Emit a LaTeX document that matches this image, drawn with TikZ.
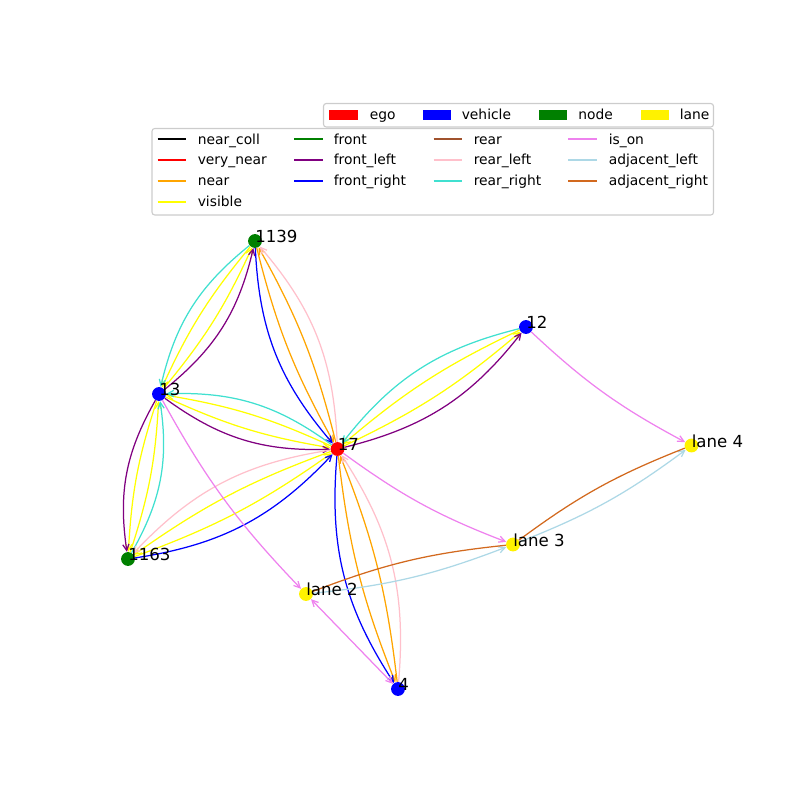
\documentclass[tikz,border=0pt]{standalone}
\usepackage{fontspec}
\setmainfont{DejaVu Sans}
\usetikzlibrary{arrows.meta}
\definecolor{near_coll}{HTML}{000000}
\definecolor{very_near}{HTML}{FF0000}
\definecolor{near}{HTML}{FFA500}
\definecolor{visible}{HTML}{FFFF00}
\definecolor{front}{HTML}{008000}
\definecolor{front_left}{HTML}{800080}
\definecolor{front_right}{HTML}{0000FF}
\definecolor{rear}{HTML}{A0522D}
\definecolor{rear_left}{HTML}{FFC0CB}
\definecolor{rear_right}{HTML}{40E0D0}
\definecolor{is_on}{HTML}{EE82EE}
\definecolor{adjacent_left}{HTML}{ADD8E6}
\definecolor{adjacent_right}{HTML}{D2691E}
\definecolor{node_green}{HTML}{008000}
\definecolor{frame_grey}{HTML}{CCCCCC}

\begin{document}
\begin{tikzpicture}[x=0.254mm, y=0.254mm,
        >={Straight Barb[length=4.5pt,width=4.5pt]},
        rel/.style={draw=#1, line width=0.9pt, ->},
        inb/.style={bend right=7.5},
        outb/.style={bend right=19},
        obj/.style={circle, fill=#1, inner sep=0pt, minimum size=10pt},
        tag/.style={anchor=base west, inner sep=0pt, font=\fontsize{12}{14}\selectfont},
        key/.style={anchor=base west, inner sep=0pt, font=\fontsize{10}{12}\selectfont},
        keyline/.style={draw=#1, line width=1.5pt},
        legbox/.style={draw=frame_grey, line width=0.8pt, fill=white, fill opacity=0.8, rounded corners=2pt}]
        \useasboundingbox (0,0) rectangle (800,-800);

        % Knoten
        \node[obj=node_green] (n1139) at (255,-241) {};
        \node[obj=blue] (n12) at (526,-327) {};
        \node[obj=blue] (n13) at (159,-394) {};
        \node[obj=red] (n17) at (337.5,-449) {};
        \node[obj=yellow] (lane4) at (691.5,-445.5) {};
        \node[obj=yellow] (lane3) at (513,-544.5) {};
        \node[obj=node_green] (n1163) at (128,-559) {};
        \node[obj=yellow] (lane2) at (306,-594) {};
        \node[obj=blue] (n4) at (398,-689) {};

        % 13 <-> 1139
        \draw[rel=visible, inb] (n13) to (n1139);
        \draw[rel=front_left, outb] (n13) to (n1139);
        \draw[rel=visible, inb] (n1139) to (n13);
        \draw[rel=rear_right, outb] (n1139) to (n13);
        % 1139 <-> 17
        \draw[rel=near, inb] (n1139) to (n17);
        \draw[rel=front_right, outb] (n1139) to (n17);
        \draw[rel=near, inb] (n17) to (n1139);
        \draw[rel=rear_left, outb] (n17) to (n1139);
        % 13 <-> 17
        \draw[rel=visible, inb] (n13) to (n17);
        \draw[rel=front_left, outb] (n13) to (n17);
        \draw[rel=visible, inb] (n17) to (n13);
        \draw[rel=rear_right, outb] (n17) to (n13);
        % 13 <-> 1163
        \draw[rel=visible, inb] (n13) to (n1163);
        \draw[rel=front_left, outb] (n13) to (n1163);
        \draw[rel=visible, inb] (n1163) to (n13);
        \draw[rel=rear_right, outb] (n1163) to (n13);
        % 1163 <-> 17
        \draw[rel=visible, inb] (n1163) to (n17);
        \draw[rel=front_right, outb] (n1163) to (n17);
        \draw[rel=visible, inb] (n17) to (n1163);
        \draw[rel=rear_left, outb] (n17) to (n1163);
        % 17 <-> 12
        \draw[rel=visible, inb] (n17) to (n12);
        \draw[rel=front_left, outb] (n17) to (n12);
        \draw[rel=visible, inb] (n12) to (n17);
        \draw[rel=rear_right, outb] (n12) to (n17);
        % 17 <-> 4
        \draw[rel=near, inb] (n17) to (n4);
        \draw[rel=front_right, outb] (n17) to (n4);
        \draw[rel=near, inb] (n4) to (n17);
        \draw[rel=rear_left, outb] (n4) to (n17);
        % is_on
        \draw[rel=is_on, inb] (n13) to (lane2);
        \draw[rel=is_on, inb] (n17) to (lane3);
        \draw[rel=is_on, inb] (n12) to (lane4);
        \draw[rel=is_on, <->] (n4) -- (lane2);
        % Fahrspuren
        \draw[rel=adjacent_left, inb] (lane3) to (lane4);
        \draw[rel=adjacent_right, inb, -] (lane4) to (lane3);
        \draw[rel=adjacent_left, inb] (lane2) to (lane3);
        \draw[rel=adjacent_right, inb, -] (lane3) to (lane2);

        % Beschriftungen
        \node[tag] (t1139) at ([yshift=-0.4mm]n1139.center) {1139};
        \node[tag] (t12) at ([yshift=-0.4mm]n12.center) {12};
        \node[tag] (t13) at ([yshift=-0.4mm]n13.center) {13};
        \node[tag] (t17) at ([yshift=-0.4mm]n17.center) {17};
        \node[tag] (tlane4) at ([yshift=-0.4mm]lane4.center) {lane 4};
        \node[tag] (tlane3) at ([yshift=-0.4mm]lane3.center) {lane 3};
        \node[tag] (t1163) at ([yshift=-0.4mm]n1163.center) {1163};
        \node[tag] (tlane2) at ([yshift=-0.4mm]lane2.center) {lane 2};
        \node[tag] (t4) at ([yshift=-0.4mm]n4.center) {4};

        % Legende Kanten
        \draw[legbox] (152,-128.5) rectangle (713.5,-215);
        \draw[keyline=near_coll] (157.5,-139.3) -- (186,-139.3);
        \node[key] (k_near_coll) at (197.5,-144) {near\_coll};
        \draw[keyline=very_near] (157.5,-160.2) -- (186,-160.2);
        \node[key] (k_very_near) at (197.5,-164.9) {very\_near};
        \draw[keyline=near] (157.5,-181.1) -- (186,-181.1);
        \node[key] (k_near) at (197.5,-185.8) {near};
        \draw[keyline=visible] (157.5,-202) -- (186,-202);
        \node[key] (k_visible) at (197.5,-206.7) {visible};
        \draw[keyline=front] (294,-139.3) -- (322.5,-139.3);
        \node[key] (k_front) at (333.5,-144) {front};
        \draw[keyline=front_left] (294,-160.2) -- (322.5,-160.2);
        \node[key] (k_front_left) at (333.5,-164.9) {front\_left};
        \draw[keyline=front_right] (294,-181.1) -- (322.5,-181.1);
        \node[key] (k_front_right) at (333.5,-185.8) {front\_right};
        \draw[keyline=rear] (433.5,-139.3) -- (462,-139.3);
        \node[key] (k_rear) at (473.5,-144) {rear};
        \draw[keyline=rear_left] (433.5,-160.2) -- (462,-160.2);
        \node[key] (k_rear_left) at (473.5,-164.9) {rear\_left};
        \draw[keyline=rear_right] (433.5,-181.1) -- (462,-181.1);
        \node[key] (k_rear_right) at (473.5,-185.8) {rear\_right};
        \draw[keyline=is_on] (568,-139.3) -- (596.5,-139.3);
        \node[key] (k_is_on) at (608.5,-144) {is\_on};
        \draw[keyline=adjacent_left] (568,-160.2) -- (596.5,-160.2);
        \node[key] (k_adjacent_left) at (608.5,-164.9) {adjacent\_left};
        \draw[keyline=adjacent_right] (568,-181.1) -- (596.5,-181.1);
        \node[key] (k_adjacent_right) at (608.5,-185.8) {adjacent\_right};

        % Legende Knoten
        \draw[legbox] (323.5,-103.5) rectangle (713.5,-127);
        \fill[red] (329.2,-110.2) rectangle (357.7,-120.2);
        \node[key] (k_ego) at (369.5,-119.8) {ego};
        \fill[blue] (422.5,-110.2) rectangle (451,-120.2);
        \node[key] (k_vehicle) at (461.5,-119.8) {vehicle};
        \fill[node_green] (538.7,-110.2) rectangle (567.2,-120.2);
        \node[key] (k_node) at (578,-119.8) {node};
        \fill[yellow] (640.5,-110.2) rectangle (669,-120.2);
        \node[key] (k_lane) at (679.5,-119.8) {lane};
    \end{tikzpicture}
\end{document}
